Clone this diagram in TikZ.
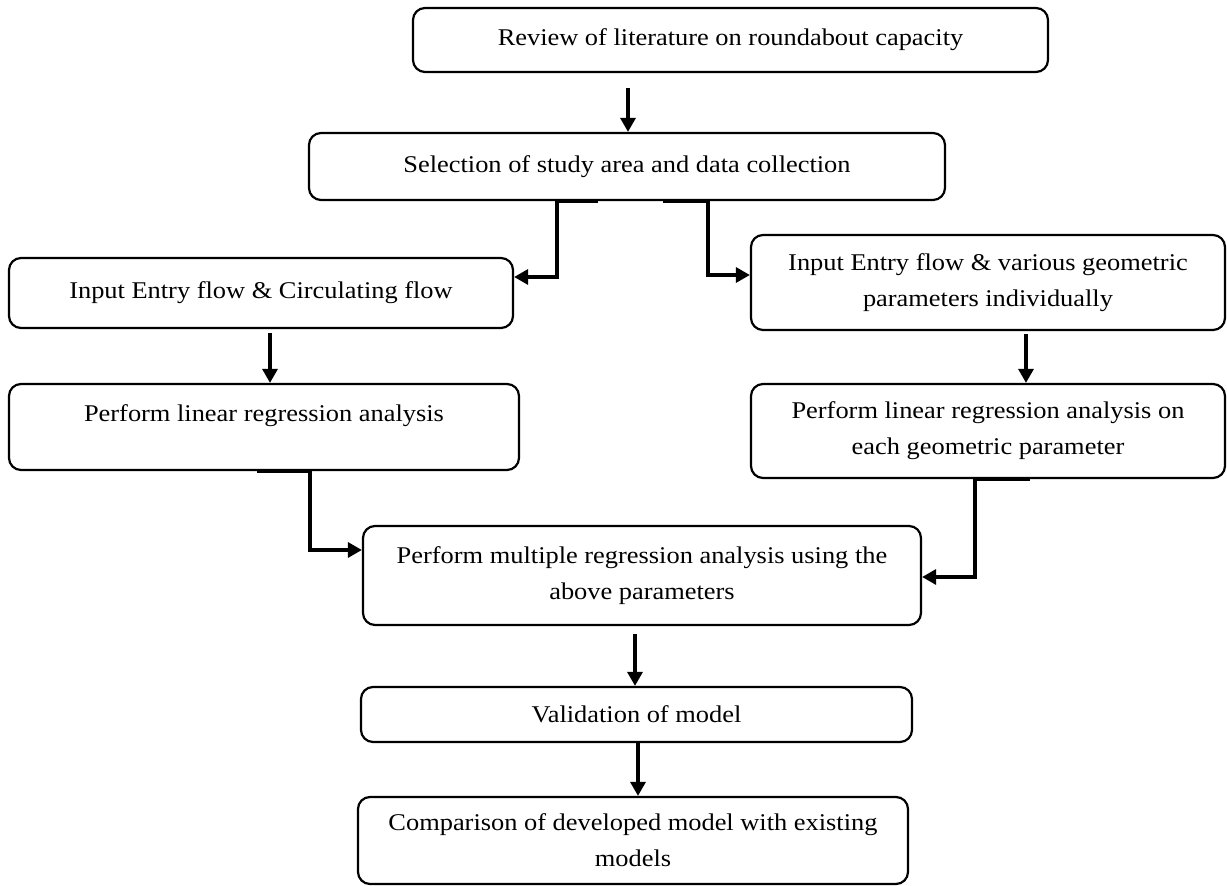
\documentclass[tikz,border=0pt]{standalone}
\usepackage{fontspec}
\setmainfont{Liberation Serif}[FakeStretch=1.1]
\usetikzlibrary{calc,arrows.meta}
\tikzset{>={Triangle[length=7pt,width=7.5pt]}}
\tikzset{
  stage/.style={draw, line width=1.1pt, rounded corners=6pt, align=center,
    inner sep=0pt, font=\fontsize{12}{18}\selectfont},
  link/.style={line width=1.6pt, ->}
}

\begin{document}
\begin{tikzpicture}[x=0.5pt,y=-0.5pt]
  \useasboundingbox (0,0) rectangle (1227,886);

  % stages of the study
  \node[stage, minimum width=317.5pt, minimum height=32pt] (review) at (730.5,40)
    {Review of literature on roundabout capacity};
  \node[stage, minimum width=318pt, minimum height=33.5pt] (select) at (627,166.5)
    {Selection of study area and data collection};
  \node[stage, minimum width=252pt, minimum height=35pt] (entryA) at (261,293)
    {Input Entry flow \& Circulating flow};
  \node[stage, minimum width=237pt, minimum height=47.5pt] (entryB) at (988,282.5)
    {Input Entry flow \& various geometric\\parameters individually};
  \node[stage, minimum width=255pt, minimum height=43pt] (linA) at (264,427)
    {Perform linear regression analysis\\[-4pt]\mbox{}};
  \node[stage, minimum width=237pt, minimum height=47pt] (linB) at (988,431)
    {Perform linear regression analysis on\\each geometric parameter};
  \node[stage, minimum width=279pt, minimum height=49.5pt] (multi) at (642,575.5)
    {Perform multiple regression analysis using the\\above parameters};
  \node[stage, minimum width=275.5pt, minimum height=27.5pt] (valid) at (636.5,714.5)
    {Validation of model};
  \node[stage, minimum width=275pt, minimum height=43.5pt] (compare) at (633,840.5)
    {Comparison of developed model with existing\\models};

  % straight arrows
  \coordinate (r1) at ($(review.south)+(-102.5,15)$);
  \draw[link] (r1) -- (r1 |- select.north);
  \draw[link] ($(entryA.south)+(9,4)$) -- ($(linA.north)+(6,0)$);
  \draw[link] ($(entryB.south)+(38,3)$) -- ($(linB.north)+(38,0)$);
  \draw[link] ($(multi.south)+(-7,8)$) -- ($(valid.north)+(-1.5,0)$);
  \draw[link] ($(valid.south)+(1.5,0)$) -- ($(compare.north)+(5,0)$);

  % elbow arrows
  \draw[link] ($(select.south)+(-29,0)$) -- ++(-41,0) |- ($(entryA.east)+(0,-16)$);
  \draw[link] ($(select.south)+(36,0)$) -- ++(45,0) |- ($(entryB.west)+(0,-7.5)$);
  \draw[link] ($(linA.south)+(-7,0)$) -- ++(53,0) |- ($(multi.west)+(0,-25.5)$);
  \draw[link] ($(linB.south)+(42,0)$) -- ++(-55,0) |- ($(multi.east)+(0,1.5)$);
\end{tikzpicture}
\end{document}
